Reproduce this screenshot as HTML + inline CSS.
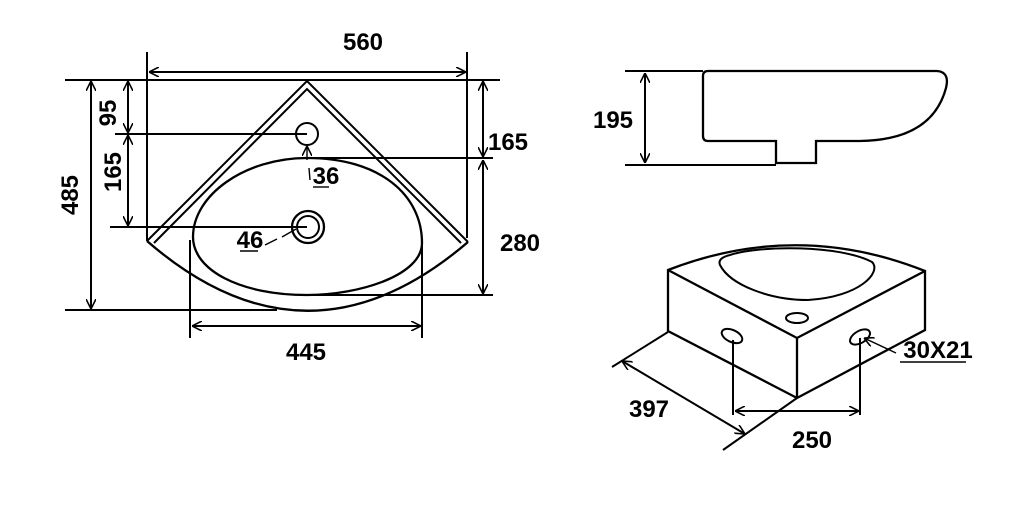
<!DOCTYPE html>
<html><head><style>
html,body{margin:0;padding:0;background:#fff;width:1018px;height:508px;overflow:hidden}
svg text{font-family:"Liberation Sans",sans-serif;font-weight:bold;font-size:24px;fill:#000}
</style></head><body>
<svg width="1018" height="508" viewBox="0 0 1018 508" xmlns="http://www.w3.org/2000/svg">
<defs>
<marker id="a" viewBox="0 0 10 10" refX="10" refY="5" markerWidth="10" markerHeight="10" orient="auto-start-reverse" markerUnits="userSpaceOnUse">
<path d="M0,0 L10,5 L0,10" fill="none" stroke="#000" stroke-width="1.6"/></marker>
</defs>
<g fill="none" stroke="#000" stroke-width="2">
<line x1="147" y1="52" x2="147" y2="241"/>
<line x1="467" y1="52" x2="467" y2="238"/>
<line x1="149" y1="72" x2="466" y2="72" marker-start="url(#a)" marker-end="url(#a)"/>
<line x1="65" y1="80" x2="500" y2="80"/>
<path d="M147,241 L307,81 L468,242"/>
<path d="M154,243 L307,89 L461,243"/>
<path d="M147,241 Q307,380 468,242" stroke-width="2.3"/>
<line x1="91" y1="81" x2="91" y2="309" marker-start="url(#a)" marker-end="url(#a)"/>
<line x1="65" y1="310" x2="277" y2="310"/>
<line x1="128" y1="81" x2="128" y2="133" marker-start="url(#a)" marker-end="url(#a)"/>
<line x1="128" y1="135" x2="128" y2="226" marker-start="url(#a)" marker-end="url(#a)"/>
<line x1="115" y1="134" x2="307" y2="134"/>
<line x1="110" y1="227" x2="307" y2="227"/>
<circle cx="307" cy="134" r="11"/>
<circle cx="308" cy="227" r="16" stroke-width="2.3"/>
<circle cx="308" cy="227" r="11"/>
<line x1="483" y1="81" x2="483" y2="157" marker-start="url(#a)" marker-end="url(#a)"/>
<line x1="483" y1="160" x2="483" y2="294" marker-start="url(#a)" marker-end="url(#a)"/>
<line x1="307" y1="158" x2="493" y2="158"/>
<line x1="300" y1="295" x2="493" y2="295"/>
<path d="M307,158 C380,158 422,195 422,243 C422,275 360,295 307,295 C240,295 193,270 193,237 C193,195 245,158 307,158 Z" stroke-width="2.3"/>
<line x1="190" y1="240" x2="190" y2="338"/>
<line x1="422" y1="243" x2="422" y2="338"/>
<line x1="192" y1="326" x2="421" y2="326" marker-start="url(#a)" marker-end="url(#a)"/>
<line x1="307" y1="160" x2="307" y2="146" marker-end="url(#a)" stroke-width="1.4"/>
<line x1="309" y1="168" x2="310" y2="180" stroke-width="1.4"/>
<line x1="313" y1="187" x2="329" y2="187" stroke-width="1.4"/>
<line x1="265" y1="245" x2="277" y2="239" stroke-width="1.4"/>
<line x1="282" y1="237" x2="296" y2="229" stroke-width="1.4"/>
<line x1="240" y1="251" x2="258" y2="251" stroke-width="1.4"/>
<line x1="625" y1="71" x2="703" y2="71"/>
<line x1="625" y1="165" x2="776" y2="165"/>
<line x1="645" y1="73" x2="645" y2="163" marker-start="url(#a)" marker-end="url(#a)"/>
<path d="M708,71 L937,71 Q950,72 946,88 Q932,140 860,141 L816,141 L816,163 L776,163 L776,141 L708,141 Q703,141 703,136 L703,76 Q703,71 708,71 Z" stroke-width="2.3"/>
<path d="M668,270 Q797,220 925,271 L925,330 L797,398 L668,331 Z" stroke-width="2.3"/>
<path d="M668,270 L797,338 L925,271 M797,338 L797,398" stroke-width="2.3"/>
<path d="M730,255 C760,245 840,245 872,262 C882,272 860,297 808,300 C770,300 730,285 720,265 C718,260 722,257 730,255 Z" stroke-width="2"/>
<ellipse cx="797" cy="318" rx="11" ry="5"/>
<ellipse cx="732" cy="336" rx="11" ry="6" transform="rotate(25 732 336)"/>
<ellipse cx="860" cy="337" rx="11" ry="6" transform="rotate(-30 860 337)"/>
<line x1="733" y1="340" x2="733" y2="415"/>
<line x1="860" y1="338" x2="860" y2="415"/>
<line x1="735" y1="411" x2="859" y2="411" marker-start="url(#a)" marker-end="url(#a)"/>
<line x1="668" y1="332" x2="612" y2="367"/>
<line x1="797" y1="398" x2="723" y2="450"/>
<line x1="622" y1="361" x2="745" y2="434" marker-start="url(#a)" marker-end="url(#a)"/>
<line x1="896" y1="353" x2="864" y2="338" marker-end="url(#a)" stroke-width="1.4"/>
<line x1="900" y1="362" x2="966" y2="362" stroke-width="1.4"/>
</g>
<text x="363" y="50" text-anchor="middle">560</text>
<text x="306" y="360" text-anchor="middle">445</text>
<text x="508" y="150" text-anchor="middle">165</text>
<text x="520" y="251" text-anchor="middle">280</text>
<text x="326" y="184" text-anchor="middle">36</text>
<text x="250" y="248" text-anchor="middle">46</text>
<text transform="translate(78,195) rotate(-90)" text-anchor="middle">485</text>
<text transform="translate(116,113) rotate(-90)" text-anchor="middle">95</text>
<text transform="translate(121,172) rotate(-90)" text-anchor="middle">165</text>
<text x="613" y="128" text-anchor="middle">195</text>
<text x="649" y="417" text-anchor="middle">397</text>
<text x="812" y="448" text-anchor="middle">250</text>
<text x="938" y="358" text-anchor="middle">30X21</text>
</svg>
</body></html>
